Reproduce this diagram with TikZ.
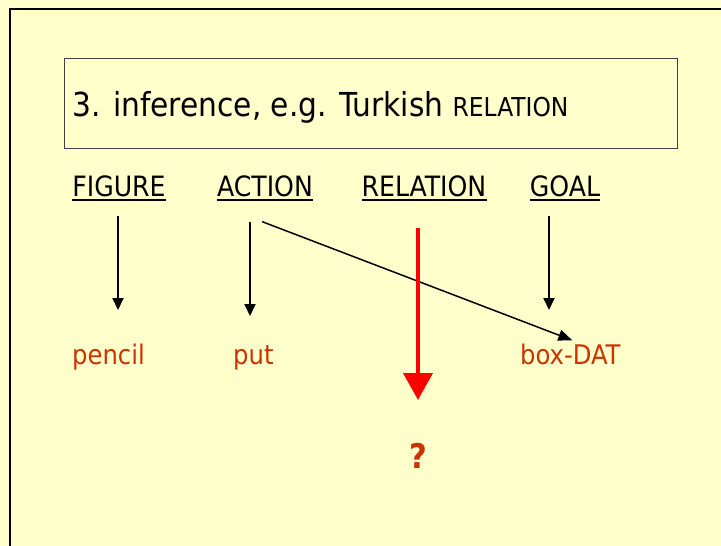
\documentclass[tikz,border=0pt]{standalone}
\usepackage{fontspec}
\setmainfont{DejaVu Sans Condensed}
\usepackage{xcolor}
\usepackage{tikz}
\usetikzlibrary{calc,arrows.meta}
\definecolor{paper}{HTML}{FFFFCC}
\definecolor{rust}{HTML}{CC3300}
\definecolor{alarm}{HTML}{FF0000}
\definecolor{frameline}{HTML}{404040}
\tikzset{
  role/.style={anchor=base, inner sep=0pt, font=\fontsize{28}{32}\selectfont},
  word/.style={anchor=base west, inner sep=0pt, text=rust, font=\fontsize{27}{32}\selectfont},
  link/.style={draw=black, line width=2pt, -{Triangle[length=12pt,width=11pt]}},
  slant/.style={draw=black, line width=1.5pt, -{Triangle[length=14pt,width=11pt]}},
  guess/.style={draw=alarm, line width=4pt, -{Triangle[length=27pt,width=29pt]}},
}

\begin{document}
\begin{tikzpicture}[x=1pt,y=1pt]
\fill[paper] (0,0) rectangle (721,-546);
\useasboundingbox (0,0) rectangle (721,-546);
\draw[line width=2pt] (721,-9) -- (10,-9) -- (10,-546);
\draw[frameline, line width=1pt] (64,-58) rectangle (677,-148);
\node[anchor=base west, inner sep=0pt, font=\fontsize{33}{40}\selectfont] (title) at (72,-116)
  {3. inference, e.g. Turkish {\fontsize{26}{32}\selectfont RELATION}};

% roles
\node[role] (figure) at (119,-196) {FIGURE};
\node[role] (action) at (265,-196) {ACTION};
\node[role] (relation) at (424,-196) {RELATION};
\node[role] (goal) at (565,-196) {GOAL};
\foreach \n in {figure,action,relation,goal}
  \draw[line width=2pt] ([yshift=-3.5pt]\n.base west) -- ([yshift=-3.5pt]\n.base east);

% fillers
\node[word] (pencil) at (72,-364) {pencil};
\node[word] (put) at (233,-364) {put};
\node[word] (box) at (520,-364) {box-DAT};
\node[anchor=base, inner sep=0pt, text=rust, font=\bfseries\fontsize{34}{40}\selectfont] (query) at (418,-468) {?};

\coordinate (figtop) at ($(figure.south)+(-1,-19)$);
\coordinate (acttop) at ($(action.south)+(-15,-25)$);
\coordinate (goaltop) at ($(goal.south)+(-16,-19)$);
\coordinate (reltop) at ($(relation.south)+(-6,-31)$);
\draw[link] (figtop) -- (figtop |- 0,-310);
\draw[link] (acttop) -- (acttop |- 0,-316);
\draw[link] (goaltop) -- (goaltop |- 0,-310);
\draw[slant] ($(acttop)+(12,0)$) -- ($(box.north)+(2,3)$);
\draw[guess] (reltop) -- (reltop |- 0,-400);
\end{tikzpicture}
\end{document}
